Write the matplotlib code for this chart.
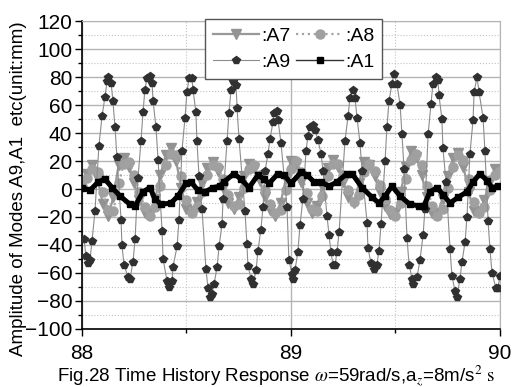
import numpy as np
import matplotlib
matplotlib.use("Agg")
import matplotlib.pyplot as plt
from matplotlib.ticker import MultipleLocator

plt.rcParams['font.family'] = ['Liberation Sans', 'DejaVu Sans']
plt.rcParams['mathtext.fontset'] = 'stix'

# A9 : large mode, read point by point (time offset from 88 s, value in mm)
t9_off = [0.010, 0.019, 0.029, 0.038, 0.048, 0.062, 0.081, 0.096, 0.110, 0.120,
          0.124, 0.139, 0.148, 0.158, 0.167, 0.187, 0.191, 0.201, 0.220, 0.230,
          0.244, 0.254, 0.268, 0.282, 0.292, 0.301, 0.311, 0.325, 0.335, 0.340,
          0.354, 0.364, 0.383, 0.388, 0.407, 0.416, 0.431, 0.435, 0.455, 0.464,
          0.478, 0.493, 0.502, 0.512, 0.526, 0.531, 0.545, 0.550, 0.560, 0.574,
          0.593, 0.603, 0.612, 0.622, 0.632, 0.646, 0.656, 0.670, 0.675, 0.694,
          0.703, 0.713, 0.722, 0.737, 0.742, 0.751, 0.780, 0.789, 0.794, 0.809,
          0.818, 0.833, 0.842, 0.856, 0.866, 0.876, 0.890, 0.900, 0.914, 0.919,
          0.933, 0.938, 0.952, 0.981, 0.990, 1.005, 1.010, 1.019, 1.033, 1.043,
          1.057, 1.072, 1.081, 1.091, 1.105, 1.115, 1.129, 1.144, 1.153, 1.172,
          1.182, 1.191, 1.201, 1.211, 1.220, 1.230, 1.258, 1.273, 1.282, 1.297,
          1.306, 1.316, 1.330, 1.340, 1.364, 1.368, 1.383, 1.397, 1.411, 1.421,
          1.431, 1.450, 1.459, 1.469, 1.483, 1.493, 1.507, 1.522, 1.531, 1.541,
          1.555, 1.565, 1.579, 1.584, 1.603, 1.617, 1.632, 1.641, 1.656, 1.670,
          1.679, 1.694, 1.703, 1.708, 1.722, 1.727, 1.742, 1.761, 1.770, 1.785,
          1.794, 1.809, 1.818, 1.833, 1.842, 1.856, 1.871, 1.876, 1.890, 1.900,
          1.919, 1.928, 1.943, 1.952, 1.962, 1.981, 1.990, 2.000]
a9 = [-36, -48, -53, -51, -37, -16, 31, 52, 66, 77,
      80, 76, 63, 44, 23, -22, -40, -54, -63, -64,
      -52, -36, 8, 34, 55, 71, 79, 81, 76, 63,
      44, 21, -30, -50, -66, -70, -66, -56, -41, -22,
      27, 51, 69, 79, 79, 71, 55, 34, 9, -14,
      -57, -71, -77, -75, -68, -56, -41, -25, -7, 34,
      54, 71, 77, 74, 58, 36, -16, -39, -55, -64,
      -68, -58, -44, -29, -13, 13, 25, 36, 48, 54,
      56, 49, 33, -13, -51, -61, -64, -58, -45, -26,
      -7, 27, 38, 44, 46, 42, 35, 25, 13, -19,
      -33, -45, -54, -54, -45, -31, 34, 52, 65, 71,
      65, 51, 33, 13, -24, -42, -53, -57, -54, -44,
      -25, 20, 44, 63, 75, 82, 75, 60, 39, 14,
      -35, -54, -64, -68, -63, -51, -33, -14, 39, 61,
      75, 80, 78, 67, 50, 29, 5, -43, -62, -73,
      -77, -64, -52, -38, -20, 25, 49, 69, 80, 69,
      51, 27, -23, -43, -60, -71, -71, -62]

# A1 : slow black wave
t1_off = [0.000, 0.038, 0.077, 0.110, 0.144, 0.182, 0.230, 0.254, 0.292, 0.325,
          0.349, 0.378, 0.426, 0.459, 0.498, 0.522, 0.555, 0.589, 0.627, 0.660,
          0.679, 0.727, 0.761, 0.799, 0.842, 0.871, 0.895, 0.938, 0.967, 1.000,
          1.048, 1.077, 1.110, 1.144, 1.182, 1.220, 1.268, 1.292, 1.340, 1.388,
          1.421, 1.450, 1.483, 1.522, 1.569, 1.612, 1.636, 1.665, 1.699, 1.727,
          1.761, 1.799, 1.842, 1.871, 1.904, 1.938, 1.962, 1.990]
a1 = [1, -1, 5, 7, 1, -5, -11, -12, -2, 1,
      -7, -11, -10, -5, 4, 5, -1, -2, 1, 2,
      5, 11, 7, 1, 10, 7, 4, 11, 10, 4,
      12, 10, 5, 5, 2, 5, 11, 11, 1, -6,
      -10, -5, 2, -5, -11, -12, -12, -2, 1, -4,
      -10, -6, -2, 5, 11, 6, 1, 2]

# A7, A8 : grey modes, sampled every 0.025 s from 88 s
t_grey = np.linspace(88, 90, 81)
a7 = [5, 11, 17, 7, -11, -19, -6, 17, 22, 16,
      4, -8, -17, -18, -7, 10, 24, 29, 20, 1,
      -14, -16, -9, 4, 15, 19, 13, 1, -10, -14,
      -6, 9, 18, 15, 6, -6, -15, -19, -10, 7,
      20, 18, 5, -10, -17, -12, 2, 15, 21, 16,
      5, -6, -10, 4, 19, 17, 9, -2, -12, -18,
      -17, -2, 16, 27, 23, 10, -6, -17, -18, -7,
      9, 22, 26, 16, -2, -16, -17, -8, 6, 14, 12]
a8 = [2, 8, 14, 12, -2, -15, -16, 4, 18, 19,
      10, -2, -13, -19, -13, 2, 17, 25, 24, 9,
      -8, -17, -13, -2, 10, 17, 16, 7, -4, -12,
      -11, 1, 14, 17, 10, -1, -11, -17, -15, -1,
      14, 20, 12, -3, -14, -16, -5, 9, 18, 18,
      10, -1, -9, -4, 12, 18, 13, 3, -7, -15,
      -19, -10, 7, 21, 25, 17, 2, -12, -19, -14,
      1, 16, 24, 21, 7, -9, -17, -13, -1, 10, 13]

t9 = 88 + np.array(t9_off)
t1 = 88 + np.array(t1_off)

fig = plt.figure(figsize=(5.17, 3.87), dpi=100)
ax = fig.add_axes([0.1586, 0.1499, 0.8085, 0.7958])

l7, = ax.plot(t_grey, a7, '-', color='#999999', lw=1.6, marker='v', ms=7,
              mfc='#939393', mec='#939393', label=':A7', zorder=2)
l8, = ax.plot(t_grey, a8, ':', color='#a4a4a4', lw=1.6, marker='o', ms=6.5,
              mfc='#a0a0a0', mec='#a0a0a0', label=':A8', zorder=2)
l9, = ax.plot(t9, a9, '-', color='#8c8c8c', lw=0.8, marker='p', ms=5.5,
              mfc='#303030', mec='#303030', label=':A9', zorder=3)
ax.plot(t1, a1, '-', color='black', lw=3.6, zorder=4)
ax.plot(t1, a1, 'none', marker='s', ms=4.5, mfc='black', mec='black', zorder=4)
# legend handle for A1 (thin line, small square)
h1, = ax.plot([], [], '-', color='#333333', lw=1.0, marker='s', ms=4,
              mfc='black', mec='black', label=':A1')

ax.set_xlim(88, 90)
ax.set_ylim(-100, 120)
ax.xaxis.set_major_locator(MultipleLocator(1))
ax.xaxis.set_minor_locator(MultipleLocator(0.5))
ax.yaxis.set_major_locator(MultipleLocator(20))
ax.yaxis.set_minor_locator(MultipleLocator(10))
ax.grid(which='major', color='#b4b4b4', lw=1.0, ls='-')
ax.grid(which='minor', color='#c4c4c4', lw=0.8, ls=':')
ax.set_axisbelow(True)

for s in ['top', 'right']:
    ax.spines[s].set_color('#b4b4b4')
for s in ['left', 'bottom']:
    ax.spines[s].set_color('black')
    ax.spines[s].set_linewidth(1.2)

ax.tick_params(which='major', direction='out', length=5, width=1.0,
               labelsize=15, colors='black', pad=2)
ax.tick_params(which='minor', direction='out', length=3, width=1.0)
ax.tick_params(axis='x', pad=6)

leg = ax.legend(handles=[l7, l9, l8, h1], ncol=2, fontsize=14,
                loc='upper left', bbox_to_anchor=(0.294, 1.006),
                borderaxespad=0, handlelength=2.4, handletextpad=0.1,
                columnspacing=0.3, borderpad=0.4, labelspacing=0.45,
                fancybox=False, framealpha=1, edgecolor='#555555')
leg.get_frame().set_linewidth(1.0)

fig.text(0.035, 0.512, 'Amplitude of Modes A9,A1  etc(unit:mm)',
         rotation=90, ha='center', va='center', fontsize=13.5)
fig.text(0.534, 0.013,
         r'Fig.28 Time History Response $\omega$=59rad/s,a$_z$=8m/s$^2$ $\mathrm{s}$',
         ha='center', va='baseline', fontsize=13.5)

fig.savefig('out.png', dpi=100)
